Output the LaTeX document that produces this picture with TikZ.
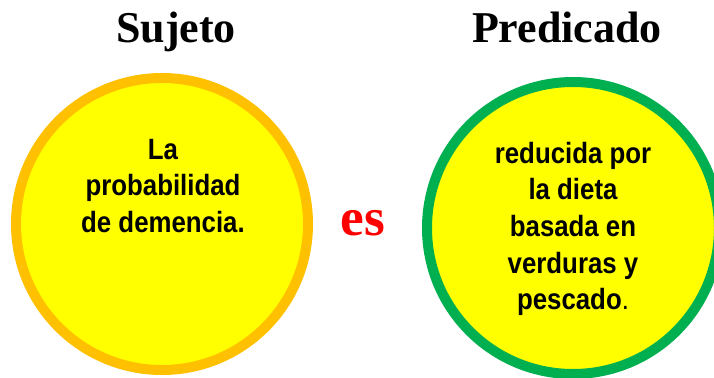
\documentclass[tikz,border=0pt]{standalone}
\usepackage{fontspec}
\setmainfont{Liberation Serif}
\newfontfamily\circfont[FakeStretch=0.88]{Liberation Sans}
\usepackage{xcolor}
\usepackage{tikz}
\usetikzlibrary{calc}

\definecolor{r255g255b0}{rgb}{1.000000,1.000000,0.000000}
\definecolor{r255g192b0}{rgb}{1.000000,0.752941,0.000000}
\definecolor{r0g176b80}{rgb}{0.000000,0.690196,0.313725}
\definecolor{r255g0b0}{rgb}{1.000000,0.000000,0.000000}

\tikzset{
  titulo/.style={anchor=base, inner sep=0pt, font=\fontsize{33}{36}\selectfont\bfseries},
  circulo/.style={circle, fill=r255g255b0, line width=7.5pt, minimum size=219pt, inner sep=0pt},
  texto/.style={align=center, inner sep=0pt, font=\circfont\bfseries\fontsize{22}{27.5}\selectfont}
}

\begin{document}
\begin{tikzpicture}[x=0.75pt, y=-0.75pt]
                    \useasboundingbox (0,0) rectangle (714,378);
                    \clip (0,0) rectangle (714,378);

                    % Titles over the two circles
                    \node[titulo] (sujeto) at (176,43) {Sujeto};%
                    \node[titulo] (predicado) at (567,43) {Predicado};%

                    % Circle of the subject
                    \node[circulo, draw=r255g192b0] (csujeto) at (162,224) {};%
                    \node[texto] (tsujeto) at (163,186) {La\\probabilidad\\de demencia.};%

                    % Verb between the circles
                    \node[anchor=base, inner sep=0pt, text=r255g0b0, font=\fontsize{40}{44}\selectfont\bfseries] (verbo) at (363,235) {es};%

                    % Circle of the predicate
                    \node[circulo, draw=r0g176b80] (cpredicado) at (573,228) {};%
                    \node[texto] (tpredicado) at (573,229) {reducida por\\la dieta\\basada en\\verduras y\\pescado{\mdseries.}};%
\end{tikzpicture}
\end{document}
